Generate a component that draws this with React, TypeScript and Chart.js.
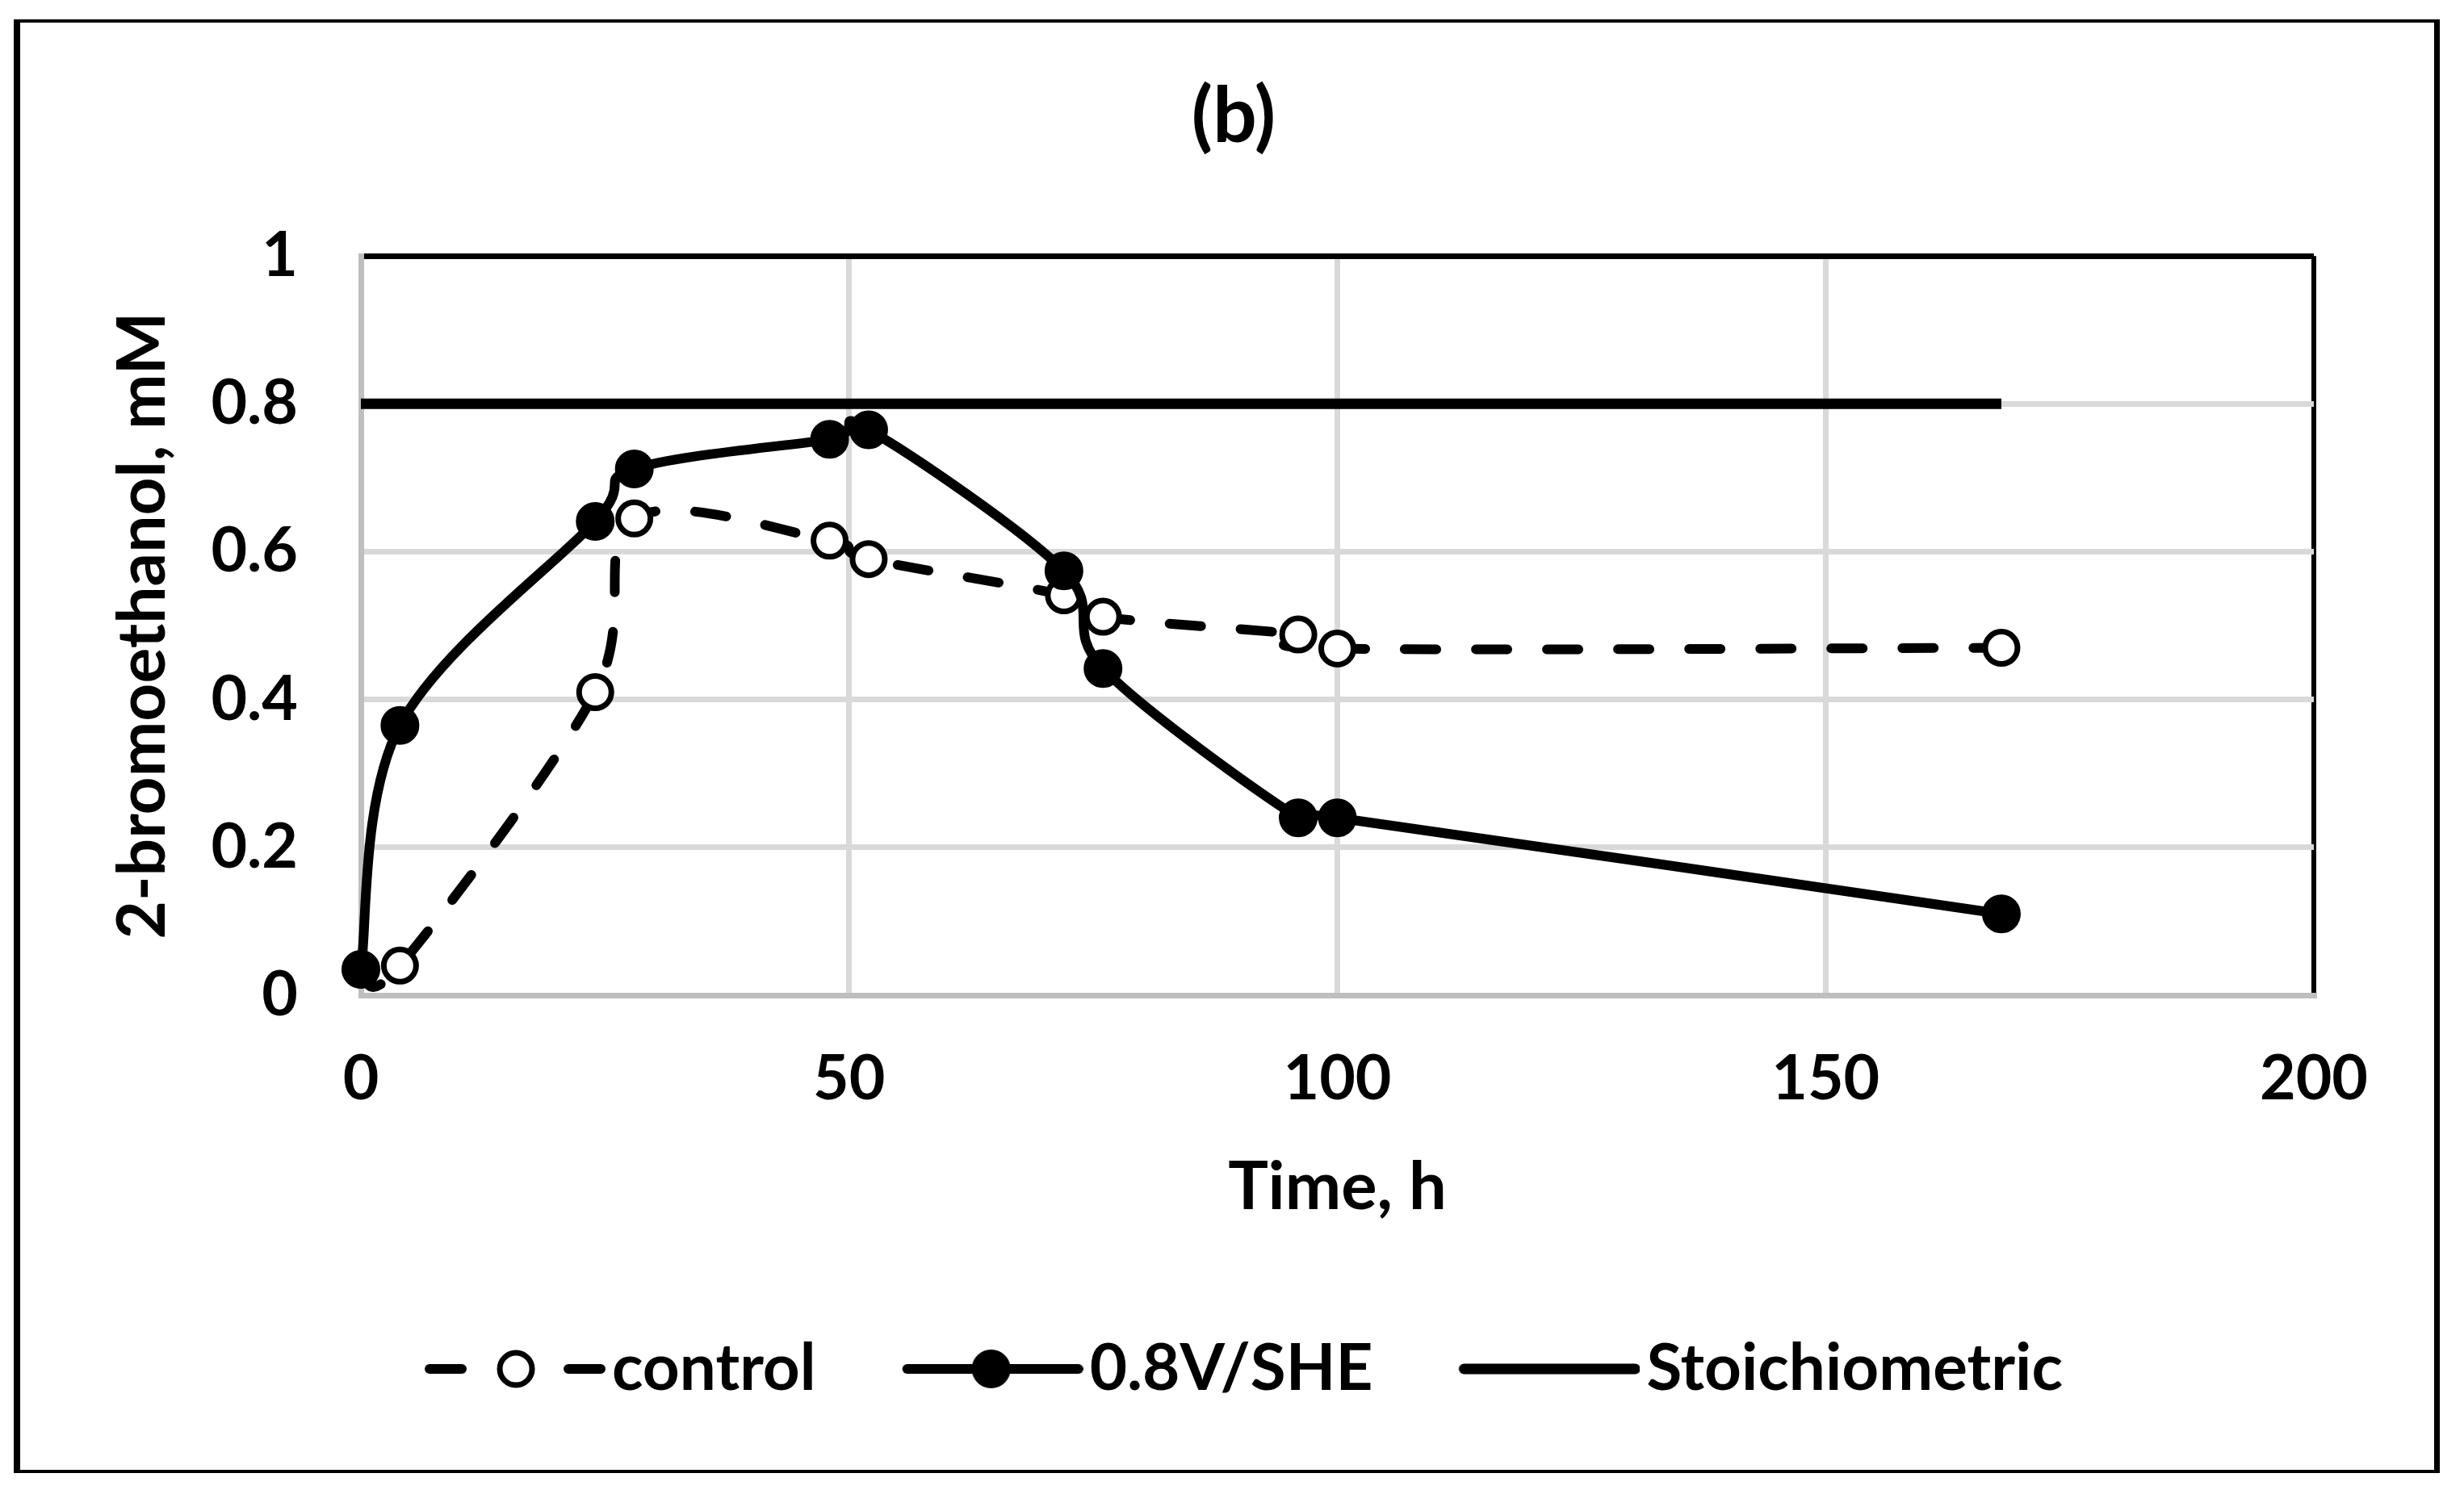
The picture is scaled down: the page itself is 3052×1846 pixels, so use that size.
import React, { useEffect, useRef } from 'react';
import { Chart, registerables } from 'chart.js';

Chart.register(...registerables);

// ---------- data ----------
const chartTitle = '(b)';
const xAxisTitle = 'Time, h';
const yAxisTitle = '2-bromoethanol, mM';
const seriesNames = ['control', '0.8V/SHE', 'Stoichiometric'];

const controlTime = [0, 4, 24, 28, 48, 52, 72, 76, 96, 100, 168];
const controlValues = [0.035, 0.04, 0.41, 0.645, 0.615, 0.59, 0.541, 0.512, 0.488, 0.469, 0.47];

const appliedTime = [0, 4, 24, 28, 48, 52, 72, 76, 96, 100, 168];
const appliedValues = [0.035, 0.365, 0.641, 0.712, 0.752, 0.765, 0.574, 0.442, 0.24, 0.24, 0.11];

const stoichTime = [0, 168];
const stoichValues = [0.8, 0.8];

const xTicks = [0, 50, 100, 150, 200];
const yTicks = [0, 0.2, 0.4, 0.6, 0.8, 1];

// ---------- styling ----------
const FONT = 'Lato';
const tickFont = { family: FONT, size: 77, weight: 'bold' as const };
const legendFont = { family: FONT, size: 80, weight: 'bold' as const };
const xTitleFont = { family: FONT, size: 83, weight: 'bold' as const };
const yTitleFont = { family: FONT, size: 82, weight: 'bold' as const };

const SYM_W = 281; // legend symbol canvas width (content right-aligned)

function makeSymbol(kind: 'dash' | 'solid' | 'plain'): HTMLCanvasElement {
  const c = document.createElement('canvas');
  c.width = SYM_W;
  c.height = 52;
  const g = c.getContext('2d')!;
  const cy = 26;
  const ox = SYM_W - 224;
  g.strokeStyle = '#000';
  g.lineCap = 'round';
  if (kind === 'dash') {
    g.lineWidth = 12;
    g.beginPath();
    g.moveTo(ox + 6, cy); g.lineTo(ox + 46, cy);
    g.moveTo(ox + 178, cy); g.lineTo(ox + 218, cy);
    g.stroke();
    g.beginPath();
    g.arc(ox + 113, cy, 20, 0, Math.PI * 2);
    g.fillStyle = '#fff';
    g.fill();
    g.lineWidth = 7;
    g.stroke();
  } else if (kind === 'solid') {
    g.lineWidth = 12;
    g.beginPath();
    g.moveTo(ox + 6, cy); g.lineTo(ox + 218, cy);
    g.stroke();
    g.beginPath();
    g.arc(ox + 110, cy, 21, 0, Math.PI * 2);
    g.fillStyle = '#000';
    g.fill();
    g.lineWidth = 6;
    g.stroke();
  } else {
    g.lineWidth = 13;
    g.beginPath();
    g.moveTo(ox + 6, cy); g.lineTo(ox + 218, cy);
    g.stroke();
  }
  return c;
}

// Excel-style smoothing (uniform Catmull-Rom control points)
const excelSmooth = {
  id: 'excelSmooth',
  beforeDatasetDraw(chart: any, args: any) {
    const ds = chart.data.datasets[args.index];
    if (!ds.smooth) return;
    const meta = args.meta;
    const pts = meta.data;
    const n = pts.length;
    for (let i = 0; i < n; i++) {
      const p = pts[i];
      const prev = pts[Math.max(i - 1, 0)];
      const next = pts[Math.min(i + 1, n - 1)];
      const dx = (next.x - prev.x) / 6;
      const dy = (next.y - prev.y) / 6;
      p.cp1x = p.x - dx; p.cp1y = p.y - dy;
      p.cp2x = p.x + dx; p.cp2y = p.y + dy;
    }
    if (meta.dataset) meta.dataset._pointsUpdated = true;
  },
};

export default function App() {
  const ref = useRef<HTMLCanvasElement | null>(null);

  useEffect(() => {
    if (!ref.current) return;
    const symbols = [makeSymbol('dash'), makeSymbol('solid'), makeSymbol('plain')];
    const gridColor = (edgeVal: number) => (ctx: any) => {
      const v = ctx.tick ? ctx.tick.value : NaN;
      if (v === edgeVal) return '#000000';
      if (v === 0) return '#bfbfbf';
      return '#d9d9d9';
    };
    const chart = new Chart(ref.current, {
      type: 'line',
      data: {
        datasets: [
          {
            label: seriesNames[0],
            data: controlTime.map((t, i) => ({ x: t, y: controlValues[i] })),
            xAxisID: 'x', yAxisID: 'y',
            borderColor: '#000',
            borderWidth: 12,
            borderDash: [39, 49],
            borderCapStyle: 'round',
            tension: 0.4,
            smooth: true,
            pointRadius: 20,
            pointBorderWidth: 7,
            pointBackgroundColor: '#fff',
            pointBorderColor: '#000',
            fill: false,
            clip: false,
            order: 2,
          } as any,
          {
            label: seriesNames[1],
            data: appliedTime.map((t, i) => ({ x: t, y: appliedValues[i] })),
            xAxisID: 'x', yAxisID: 'y',
            borderColor: '#000',
            borderWidth: 12,
            borderCapStyle: 'round',
            tension: 0.4,
            smooth: true,
            pointRadius: 21,
            pointBorderWidth: 6,
            pointBackgroundColor: '#000',
            pointBorderColor: '#000',
            fill: false,
            clip: false,
            order: 1,
          } as any,
          {
            label: seriesNames[2],
            data: stoichTime.map((t, i) => ({ x: t, y: stoichValues[i] })),
            xAxisID: 'x', yAxisID: 'y',
            borderColor: '#000',
            borderWidth: 13,
            tension: 0,
            pointRadius: 0,
            fill: false,
            clip: false,
            order: 0,
          } as any,
        ],
      },
      options: {
        animation: false,
        responsive: false,
        devicePixelRatio: 1,
        layout: { padding: { left: 16, right: 0, top: 0, bottom: 100 } },
        plugins: {
          title: {
            display: true,
            text: chartTitle,
            color: '#000',
            font: { family: FONT, size: 96, weight: 'bold' },
            padding: { top: 87, bottom: 115 },
          },
          legend: {
            display: true,
            position: 'bottom',
            align: 'center',
            labels: {
              usePointStyle: true,
              pointStyleWidth: 217,
              padding: 82,
              color: '#000',
              font: legendFont,
              generateLabels: () =>
                seriesNames.map((name, i) => ({
                  text: name,
                  pointStyle: symbols[i] as any,
                  datasetIndex: i,
                  hidden: false,
                  fillStyle: '#000',
                  strokeStyle: '#000',
                  lineWidth: 0,
                  fontColor: '#000',
                })),
            },
          },
          tooltip: { enabled: false },
        },
        scales: {
          x: {
            type: 'linear',
            position: 'bottom',
            min: xTicks[0],
            max: xTicks[xTicks.length - 1],
            ticks: { stepSize: xTicks[1] - xTicks[0], padding: 58, color: '#000', font: tickFont, maxRotation: 0 },
            grid: {
              color: gridColor(xTicks[xTicks.length - 1]),
              lineWidth: (ctx: any) => (ctx.tick && ctx.tick.value === xTicks[xTicks.length - 1] ? 6 : 7),
              drawTicks: false,
            },
            border: { display: true, color: '#bfbfbf', width: 7 },
            title: { display: true, text: xAxisTitle, color: '#000', font: xTitleFont, padding: { top: 0, bottom: 53 } },
            afterFit: (s: any) => { s.height = 341; },
          },
          y: {
            type: 'linear',
            position: 'left',
            min: yTicks[0],
            max: yTicks[yTicks.length - 1],
            ticks: {
              stepSize: yTicks[1] - yTicks[0],
              padding: 78,
              color: '#000',
              font: tickFont,
              callback: (v: any) => String(Math.round(Number(v) * 10) / 10),
            },
            grid: {
              color: gridColor(yTicks[yTicks.length - 1]),
              lineWidth: 7,
              drawTicks: false,
            },
            border: { display: true, color: '#bfbfbf', width: 7 },
            title: { display: true, text: yAxisTitle, color: '#000', font: yTitleFont, padding: { top: 112, bottom: 0 } },
            afterFit: (s: any) => { s.width = 431; },
          },
          yPad: {
            type: 'linear',
            position: 'right',
            display: true,
            grid: { display: false, drawTicks: false },
            ticks: { display: false },
            border: { display: false },
            afterFit: (s: any) => { s.width = 174; },
          },
        },
      } as any,
      plugins: [excelSmooth as any],
    });
    return () => chart.destroy();
  }, []);

  return (
    <div style={{ position: 'fixed', left: 0, top: 0, width: 3052, height: 1846, background: '#fff', overflow: 'hidden' }}>
      <canvas ref={ref} width={3040} height={1846} style={{ position: 'absolute', left: 0, top: 0 }} />
      <div
        style={{
          position: 'absolute',
          left: 17,
          top: 24,
          width: 3005,
          height: 1801,
          borderStyle: 'solid',
          borderColor: '#000',
          borderWidth: '4px 7px 4px 8px',
          boxSizing: 'border-box',
          pointerEvents: 'none',
        }}
      />
    </div>
  );
}
